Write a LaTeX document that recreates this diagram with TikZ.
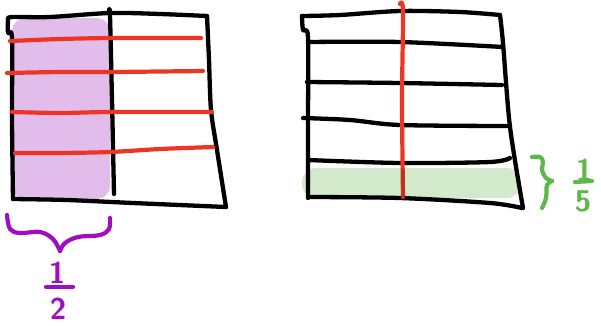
\documentclass[tikz,border=0pt]{standalone}
\usepackage{fontspec}
\definecolor{penred}{HTML}{EE3524}
\definecolor{penpurple}{HTML}{A10EC2}
\definecolor{fillpurple}{HTML}{E2BDEC}
\definecolor{pengreen}{HTML}{5CB848}
\definecolor{fillgreen}{HTML}{D3E9CB}
\tikzset{
  blk/.style={draw=black,line width=4.3pt,line cap=round,line join=round},
  redpen/.style={draw=penred,line width=4.2pt,line cap=round,line join=round},
  purplepen/.style={draw=penpurple,line width=4.2pt,line cap=round,line join=round},
  greenpen/.style={draw=pengreen,line width=4.2pt,line cap=round,line join=round},
  digit/.style={inner sep=0pt,font=\fontsize{30}{30}\selectfont\sffamily\bfseries},
}
\begin{document}
\begin{tikzpicture}[x=1pt,y=-1pt]
\useasboundingbox (0,0) rectangle (601,325);
% ---------- left square ----------
\fill[fillpurple,rounded corners=13pt] (12,18) rectangle (110,199);
\draw[blk] plot[smooth,tension=0.5] coordinates {(8,19) (12,17) (50,17) (110,13) (160,14) (207,16)};
\draw[blk] plot[smooth,tension=0.5] coordinates {(207,16) (209,60) (211,110) (217,150) (226,207)};
\draw[blk] plot[smooth,tension=0.5] coordinates {(13,199) (67,200) (133,203) (226,207)};
\draw[blk] plot[smooth,tension=0.5] coordinates {(8,19) (8,33) (12,38) (12,120) (13,199)};
\draw[blk] plot[smooth,tension=0.5] coordinates {(109,11) (110,16) (112,100) (114,194)};
\draw[redpen] plot[smooth,tension=0.5] coordinates {(10,41) (60,39) (110,38) (160,38) (201,38)};
\draw[redpen] plot[smooth,tension=0.5] coordinates {(7,73) (60,72) (110,72) (203,71)};
\draw[redpen] plot[smooth,tension=0.5] coordinates {(12,112) (60,113) (110,112) (212,112)};
\draw[redpen] plot[smooth,tension=0.5] coordinates {(15,153) (60,153) (110,152) (160,149) (213,147)};
% purple brace
\draw[purplepen] plot[smooth,tension=0.6] coordinates {(7,215) (10,229) (20,233) (40,232) (53,239) (60,251)};
\draw[purplepen] plot[smooth,tension=0.6] coordinates {(60,251) (65,243) (78,237) (100,235) (109,229) (110,218)};
\node[digit,text=penpurple] (onea) at (57,273) {1};
\coordinate (bara1) at (46,287);
\coordinate (bara2) at (73,287);
\draw[purplepen] (bara1) -- (bara2);
\node[digit,text=penpurple] (twoa) at (58,309) {2};
% ---------- right square ----------
\draw[blk] plot[smooth,tension=0.5] coordinates {(302,16) (340,15) (400,11) (460,12) (500,15)};
\draw[blk] plot[smooth,tension=0.5] coordinates {(302,16) (303,30) (308,37) (308,120) (308,198)};
\draw[blk] plot[smooth,tension=0.5] coordinates {(500,15) (503,43) (510,127) (523,208)};
\draw[blk] plot[smooth,tension=0.5] coordinates {(308,197) (400,198) (490,203) (522,208)};
\draw[blk] plot[smooth,tension=0.5] coordinates {(308,42) (400,42) (503,47)};
\draw[blk] plot[smooth,tension=0.5] coordinates {(307,82) (400,83) (502,85)};
\draw[blk] plot[smooth,tension=0.5] coordinates {(303,118) (350,120) (400,125) (507,126)};
\draw[blk] plot[smooth,tension=0.5] coordinates {(308,160) (400,163) (490,162) (510,158)};
\draw[redpen] plot[smooth,tension=0.5] coordinates {(400,4) (403,11) (402,100) (403,197)};
\begin{scope}[blend mode=multiply]
\fill[fillgreen,rounded corners=14pt] (302,168) rectangle (521,198);
\end{scope}
% green brace
\draw[greenpen] plot[smooth,tension=0.6] coordinates {(532,157) (540,157) (543,162) (542,170) (546,178) (552,181)};
\draw[greenpen] plot[smooth,tension=0.6] coordinates {(552,181) (547,185) (546,198) (542,208)};
\node[digit,text=pengreen] (oneb) at (584,170) {1};
\coordinate (barb1) at (575,182);
\coordinate (barb2) at (592,181);
\draw[greenpen] (barb1) -- (barb2);
\node[digit,text=pengreen] (fiveb) at (583,201) {5};
\end{tikzpicture}
\end{document}
